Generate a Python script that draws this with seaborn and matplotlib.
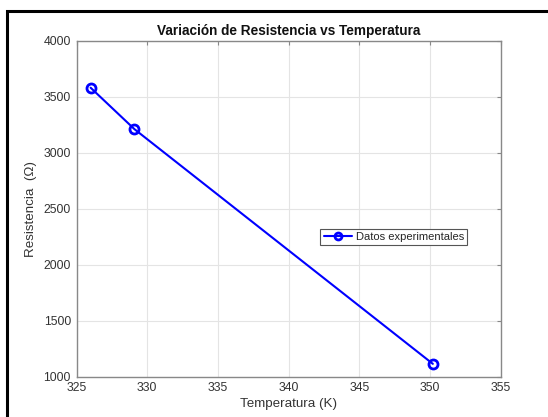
import pandas as pd
import seaborn as sns
import matplotlib.pyplot as plt
from matplotlib.patches import Rectangle

# data
temperatura = [326.0, 329.1, 350.2]
resistencia = [3580, 3210, 1115]
xticks = [325, 330, 335, 340, 345, 350, 355]
yticks = [1000, 1500, 2000, 2500, 3000, 3500, 4000]

df = pd.DataFrame({'Temperatura': temperatura, 'Resistencia': resistencia})

sns.set_style("whitegrid")
plt.rcParams['font.family'] = ['Liberation Sans', 'DejaVu Sans']
plt.rcParams['font.size'] = 9

fig = plt.figure(figsize=(5.48, 4.17), dpi=100)
ax = fig.add_axes([0.1396, 0.0966, 0.7741, 0.8058])

sns.lineplot(data=df, x='Temperatura', y='Resistencia', ax=ax, color='#0000ff',
             marker='o', markersize=6.5, markerfacecolor='none',
             markeredgecolor='#0000ff', markeredgewidth=2, linewidth=1.5,
             label='Datos experimentales')

ax.set_xlim(325, 355)
ax.set_ylim(1000, 4000)
ax.set_xticks(xticks)
ax.set_yticks(yticks)
ax.grid(True, color='#e4e4e4', linewidth=0.8)
for s in ax.spines.values():
    s.set_color('#888888')
    s.set_linewidth(1.0)
ax.tick_params(direction='in', length=3, color='#888888', labelcolor='#333333',
               labelsize=8.8, top=True, right=True, pad=4)

ax.set_title('Variación de Resistencia vs Temperatura', fontsize=9.8,
             fontweight='bold', color='#111111', pad=4)
ax.set_xlabel('Temperatura (K)', fontsize=9.6, color='#333333', labelpad=3)
ax.set_ylabel('Resistencia  (Ω)', fontsize=9.6, color='#333333', labelpad=5)

leg = ax.legend(loc='center', bbox_to_anchor=(0.748, 0.416), fontsize=8,
                frameon=True, fancybox=False, handlelength=2.6,
                borderpad=0.3, handletextpad=0.3)
leg.get_frame().set_edgecolor('#555555')
leg.get_frame().set_linewidth(0.8)
leg.get_frame().set_alpha(1)
for h in leg.legend_handles:
    h.set_markersize(5)

# screenshot frame on the left and top
fig.add_artist(Rectangle((7 / 548, -0.1), 1.2, 1 - 11 / 417 + 0.1,
                         transform=fig.transFigure, fill=False,
                         edgecolor='black', linewidth=2.2))

plt.savefig('out.png', dpi=100)
